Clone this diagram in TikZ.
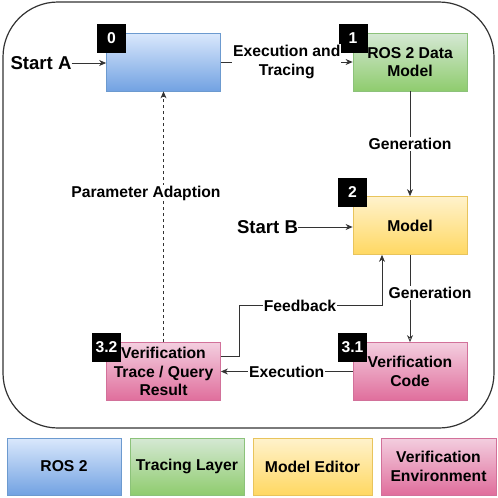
\documentclass[tikz,border=0pt]{standalone}
\usepackage{fontspec}
\setmainfont{Liberation Sans}
\usetikzlibrary{arrows.meta,calc}
\definecolor{bluetop}{HTML}{DAE8FC}\definecolor{bluebot}{HTML}{72A2E2}\definecolor{bluestroke}{HTML}{6C9ACF}
\definecolor{greentop}{HTML}{D5E8D4}\definecolor{greenbot}{HTML}{8FCC6E}\definecolor{greenstroke}{HTML}{8CC27A}
\definecolor{yeltop}{HTML}{FFF2CC}\definecolor{yelbot}{HTML}{FFD862}\definecolor{yelstroke}{HTML}{E8C45C}
\definecolor{pinktop}{HTML}{F3CEDF}\definecolor{pinkbot}{HTML}{E06E9C}\definecolor{pinkstroke}{HTML}{D2719A}
\definecolor{linegray}{HTML}{333333}
\begin{document}
\begin{tikzpicture}[x=1pt,y=-1pt,
  txt/.style={font=\bfseries\fontsize{15.7}{18.5}\selectfont, align=center, inner sep=0pt},
  box/.style={txt, draw, line width=0.8pt, minimum width=114pt, minimum height=58pt},
  bluebox/.style={box, draw=bluestroke, top color=bluetop, bottom color=bluebot},
  greenbox/.style={box, draw=greenstroke, top color=greentop, bottom color=greenbot},
  yelbox/.style={box, draw=yelstroke, top color=yeltop, bottom color=yelbot},
  pinkbox/.style={box, draw=pinkstroke, top color=pinktop, bottom color=pinkbot},
  badge/.style={txt, fill=black, text=white, minimum width=29pt, minimum height=29pt},
  elabel/.style={txt, fill=white, inner sep=1pt},
  start/.style={txt, font=\bfseries\fontsize{18.6}{21}\selectfont},
  arr/.style={draw=linegray, line width=0.8pt, -{Stealth[length=7pt,width=6pt]}},
  openarr/.style={draw=linegray, line width=0.8pt, -{Stealth[length=7pt,width=6pt,open]}},
]
\useasboundingbox (0,0) rectangle (498,498);
\fill[white] (0,0) rectangle (498,498);
% outer frame
\draw[linegray, line width=1.2pt, rounded corners=55pt] (3,2) rectangle (494,428);

% main boxes
\node[bluebox]  (b0)  at (163.5,62) {};
\node[greenbox] (b1)  at (410,62) {ROS 2 Data\\Model};
\node[yelbox]   (b2)  at (410,225.5) {Model};
\node[pinkbox]  (b31) at (410,371.5) {Verification\\Code};
\node[pinkbox]  (b32) at (163.5,371.5) {Verification\\Trace / Query\\Result};

% badges
\node[badge] (n0)  at (111.5,38.5) {0};
\node[badge] (n1)  at (353,38.5) {1};
\node[badge] (n2)  at (352.5,192.5) {2};
\node[badge] (n31) at (352.5,347.5) {3.1};
\node[badge] (n32) at (106.5,347.5) {3.2};

% starts
\node[start] (sa) at (41,63) {Start A};
\node[start] (sb) at (267.5,227) {Start B};
\draw[arr] (sa.east) -- (sa.east -| b0.west);
\draw[arr] (sb.east) -- (sb.east -| b2.west);

% connectors
\draw[arr] (b0.east) -- node[elabel] (lex) {Execution and\\Tracing} (b1.west);
\draw[arr] (b1.south) -- node[elabel] (lg1) {Generation} (b2.north);
\draw[openarr] (b2.south) -- (b31.north);
\node[elabel] (lg2) at (430,293) {Generation};
\draw[arr] (b31.west) -- node[elabel] (lexe) {Execution} (b32.east);
\draw[draw=linegray, line width=0.8pt, dash pattern=on 3pt off 3pt, -{Stealth[length=7pt,width=6pt]}] (b32.north) -- (b0.south);
\node[elabel] (lpa) at (146,193) {Parameter Adaption};
\coordinate (f1) at ($(b32.north east)+(0,14)$);
\coordinate (fbA) at (239,305);
\coordinate (fbB) at ($(b2.south)+(-28,0)$);
\draw[arr] (f1) -| (fbA) -| (fbB);
\node[elabel] (lfb) at (300,306) {Feedback};

% legend
\node[box, draw=bluestroke, top color=bluetop, bottom color=bluebot, minimum width=114pt, minimum height=57pt] (lg_a) at (64,466.5) {ROS 2};
\node[box, draw=greenstroke, top color=greentop, bottom color=greenbot, minimum width=114pt, minimum height=57pt] (lg_b) at (187,466.5) {Tracing Layer};
\node[box, draw=yelstroke, top color=yeltop, bottom color=yelbot, minimum width=119pt, minimum height=57pt] (lg_c) at (312.5,466.5) {Model Editor};
\node[box, draw=pinkstroke, top color=pinktop, bottom color=pinkbot, minimum width=115pt, minimum height=57pt] (lg_d) at (438.5,466.5) {Verification\\Environment};
\end{tikzpicture}
\end{document}
